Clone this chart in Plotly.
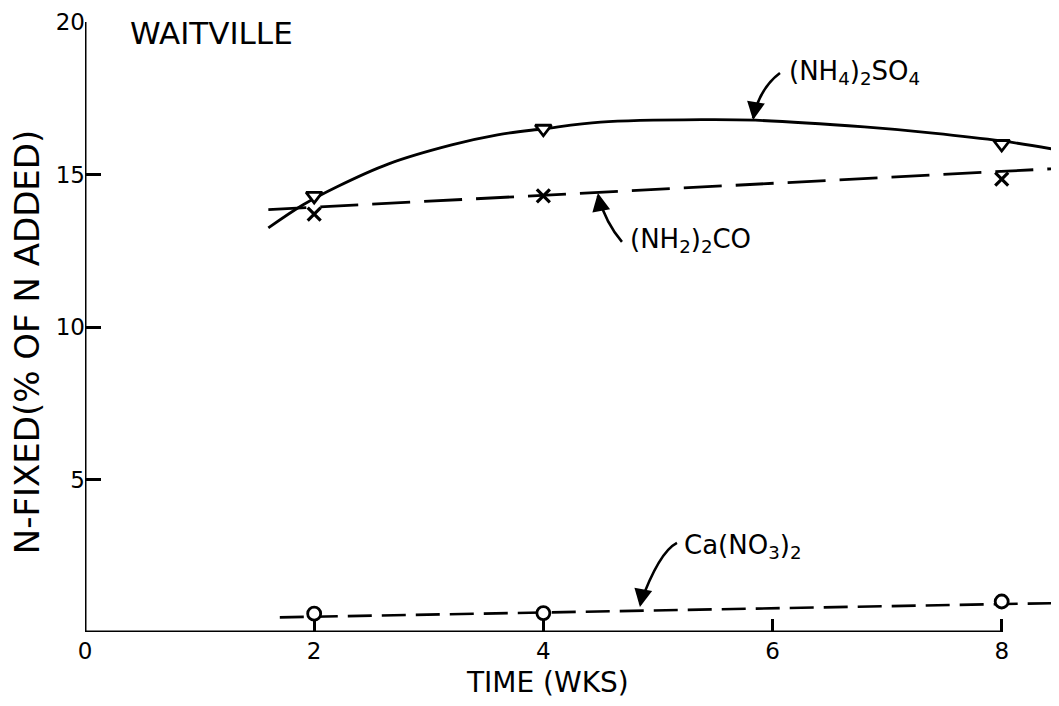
import plotly.graph_objects as go

# ---- data ----
weeks = [2, 4, 8]
nh4_so4 = [14.3, 16.5, 16.0]
nh2_co = [13.7, 14.3, 14.85]
ca_no3 = [0.6, 0.62, 1.0]

# fitted curves as drawn in the reference
nh4_curve_x = [1.6, 1.9, 2.2, 2.65, 3.2, 3.6, 4.0, 4.5, 5.4, 5.85, 6.8, 7.4, 8.0, 8.5]
nh4_curve_y = [13.25, 14.0, 14.6, 15.35, 15.97, 16.3, 16.5, 16.72, 16.8, 16.78, 16.56, 16.36, 16.1, 15.8]
nh2_curve_x = [1.6, 8.5]
nh2_curve_y = [13.85, 15.2]
ca_curve_x = [1.7, 8.5]
ca_curve_y = [0.48, 0.95]

x_ticks = [0, 2, 4, 6, 8]
y_ticks = [5, 10, 15, 20]

FONT = "DejaVu Sans"
BLACK = "black"

fig = go.Figure()

fig.add_trace(go.Scatter(x=nh4_curve_x, y=nh4_curve_y, mode="lines",
                         line=dict(color=BLACK, width=2.8, shape="spline", smoothing=1.0),
                         showlegend=False, hoverinfo="skip"))
fig.add_trace(go.Scatter(x=nh2_curve_x, y=nh2_curve_y, mode="lines",
                         line=dict(color=BLACK, width=2.8, dash="38px,14px"),
                         showlegend=False, hoverinfo="skip"))
fig.add_trace(go.Scatter(x=ca_curve_x, y=ca_curve_y, mode="lines",
                         line=dict(color=BLACK, width=2.6, dash="24px,10px"),
                         showlegend=False, hoverinfo="skip"))

fig.add_trace(go.Scatter(x=weeks, y=nh4_so4, mode="markers", name="(NH4)2SO4",
                         marker=dict(symbol="triangle-down", size=14, color="white",
                                     line=dict(color=BLACK, width=2.8)),
                         showlegend=False))
fig.add_trace(go.Scatter(x=weeks, y=nh2_co, mode="markers", name="(NH2)2CO",
                         marker=dict(symbol="x-thin", size=13, color=BLACK,
                                     line=dict(color=BLACK, width=3.2)),
                         showlegend=False))
fig.add_trace(go.Scatter(x=weeks, y=ca_no3, mode="markers", name="Ca(NO3)2",
                         marker=dict(symbol="circle", size=13, color="white",
                                     line=dict(color=BLACK, width=2.8)),
                         showlegend=False))

# axis lines (x-axis ends at week 8)
fig.add_shape(type="line", x0=0, y0=0, x1=8, y1=0, xref="x", yref="y",
              line=dict(color=BLACK, width=3))
fig.add_shape(type="line", x0=0, y0=0, x1=0, y1=20, xref="x", yref="y",
              line=dict(color=BLACK, width=3))

# curved leader lines
def curve(p0, c, p1):
    return f"M {p0[0]},{p0[1]} Q {c[0]},{c[1]} {p1[0]},{p1[1]}"

leaders = [
    ((6.065, 18.33), (5.89, 17.84), (5.83, 16.85)),
    ((4.686, 12.79), (4.546, 13.41), (4.476, 14.3)),
    ((5.166, 2.92), (5.009, 2.62), (4.843, 0.9)),
]
for p0, c, p1 in leaders:
    fig.add_shape(type="path", path=curve(p0, c, p1), xref="x", yref="y",
                  line=dict(color=BLACK, width=2.6))

arrows = [
    (5.83, 16.79, 3, -18),
    (4.476, 14.39, 3, 16),
    (4.843, 0.82, 3, -16),
]
for x, y, ax, ay in arrows:
    fig.add_annotation(x=x, y=y, xref="x", yref="y", text="", showarrow=True,
                       ax=ax, ay=ay, arrowhead=2, arrowsize=1.5, arrowwidth=2.4,
                       arrowcolor=BLACK, standoff=0)

labels = [
    (6.13, 18.33, "(NH<sub>4</sub>)<sub>2</sub>SO<sub>4</sub>"),
    (4.74, 12.85, "(NH<sub>2</sub>)<sub>2</sub>CO"),
    (5.21, 2.8, "Ca(NO<sub>3</sub>)<sub>2</sub>"),
]
for x, y, t in labels:
    fig.add_annotation(x=x, y=y, xref="x", yref="y", text=t, showarrow=False,
                       xanchor="left", yanchor="middle",
                       font=dict(family=FONT, size=26, color=BLACK))

fig.add_annotation(x=0.375, y=19.64, xref="x", yref="y", text="WAITVILLE",
                   showarrow=False, xanchor="left", yanchor="middle",
                   font=dict(family=FONT, size=31, color=BLACK))
fig.add_annotation(x=-0.0595, y=0.475, xref="paper", yref="paper",
                   text="N-FIXED(% OF N ADDED)",
                   textangle=-90, showarrow=False, xanchor="center", yanchor="middle",
                   font=dict(family=FONT, size=34, color=BLACK))
fig.add_annotation(x=0.475, y=-0.0836, xref="paper", yref="paper", text="TIME (WKS)",
                   showarrow=False, xanchor="center", yanchor="middle",
                   font=dict(family=FONT, size=28, color=BLACK))

fig.update_xaxes(range=[0, 8.5], tickvals=x_ticks, ticktext=[str(v) for v in x_ticks],
                 ticks="inside", ticklen=13, tickwidth=2.8, tickcolor=BLACK,
                 showgrid=False, zeroline=False, showline=False, automargin=False,
                 tickfont=dict(family=FONT, size=23, color=BLACK), ticklabelstandoff=3)
fig.update_yaxes(range=[0, 20], tickvals=y_ticks, ticktext=[str(v) for v in y_ticks],
                 ticks="inside", ticklen=16, tickwidth=2.8, tickcolor=BLACK,
                 showgrid=False, zeroline=False, showline=False, automargin=False,
                 tickfont=dict(family=FONT, size=23, color=BLACK), ticklabelstandoff=-1)

# page body adds an 8px offset; compensate so the plot area lands where the reference has it
fig.update_layout(width=1059, height=706, paper_bgcolor="white", plot_bgcolor="white",
                  margin=dict(l=77, r=8, t=14, b=82), showlegend=False)

fig.write_html("out.html")
